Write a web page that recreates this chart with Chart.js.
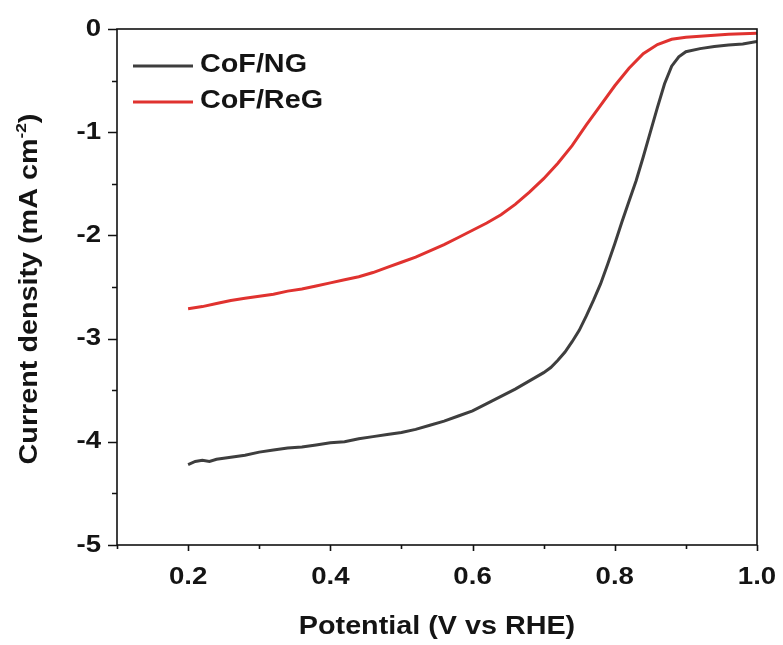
<!DOCTYPE html>
<html>
<head>
<meta charset="utf-8">
<script src="https://cdn.jsdelivr.net/npm/chart.js@4.4.0/dist/chart.umd.min.js"></script>
<style>
    html, body { margin: 0; padding: 0; background: #fff; }
    #wrap { width: 783px; height: 645px; }
</style>
</head>
<body>
<div id="wrap"><canvas id="lsv"></canvas></div>
<script>
// ---------------- data ----------------
const seriesNames = ["CoF/NG", "CoF/ReG"];

const ngPotential = [0.20, 0.21, 0.22, 0.23, 0.24, 0.25, 0.26, 0.28, 0.30, 0.32, 0.34, 0.36, 0.38, 0.40,
    0.42, 0.44, 0.46, 0.48, 0.50, 0.52, 0.54, 0.56, 0.58, 0.60, 0.62, 0.64, 0.66, 0.68, 0.70, 0.71,
    0.72, 0.73, 0.74, 0.75, 0.76, 0.77, 0.78, 0.79, 0.80, 0.81, 0.82, 0.83, 0.84, 0.85, 0.86, 0.87,
    0.88, 0.89, 0.90, 0.92, 0.94, 0.96, 0.98, 1.00];
const ngCurrent = [-4.22, -4.19, -4.18, -4.19, -4.17, -4.16, -4.15, -4.13, -4.10, -4.08, -4.06, -4.05, -4.03, -4.01,
    -4.00, -3.97, -3.95, -3.93, -3.91, -3.88, -3.84, -3.80, -3.75, -3.70, -3.63, -3.56, -3.49, -3.41, -3.33, -3.28,
    -3.21, -3.13, -3.03, -2.92, -2.78, -2.63, -2.47, -2.28, -2.08, -1.87, -1.67, -1.47, -1.24, -1.00, -0.76, -0.53,
    -0.36, -0.27, -0.22, -0.19, -0.17, -0.155, -0.145, -0.12];

const regPotential = [0.20, 0.22, 0.24, 0.26, 0.28, 0.30, 0.32, 0.34, 0.36, 0.38, 0.40, 0.42, 0.44, 0.46,
    0.48, 0.50, 0.52, 0.54, 0.56, 0.58, 0.60, 0.62, 0.64, 0.66, 0.68, 0.70, 0.72, 0.74, 0.76, 0.78,
    0.80, 0.82, 0.84, 0.86, 0.88, 0.90, 0.92, 0.94, 0.96, 0.98, 1.00];
const regCurrent = [-2.71, -2.69, -2.66, -2.63, -2.61, -2.59, -2.57, -2.54, -2.52, -2.49, -2.46, -2.43, -2.40, -2.36,
    -2.31, -2.26, -2.21, -2.15, -2.09, -2.02, -1.95, -1.88, -1.80, -1.70, -1.58, -1.45, -1.30, -1.13, -0.93, -0.74,
    -0.55, -0.38, -0.24, -0.15, -0.10, -0.08, -0.07, -0.06, -0.05, -0.045, -0.04];

const xMajorTicks = [0.2, 0.4, 0.6, 0.8, 1.0];
const xTickLabels = ["0.2", "0.4", "0.6", "0.8", "1.0"];
const xMinorTicks = [0.1, 0.3, 0.5, 0.7, 0.9];
const yMajorTicks = [0, -1, -2, -3, -4, -5];
const yTickLabels = ["0", "-1", "-2", "-3", "-4", "-5"];
const yMinorTicks = [-0.5, -1.5, -2.5, -3.5, -4.5];

const xTitle = "Potential (V vs RHE)";
const yTitle = ["Current density (mA cm", "-2", ")"];

const lineColors = ["#3e3e3e", "#e0322f"];
const textColor = "#141414";
const fontFamily = "'Liberation Sans', Arial, sans-serif";
const stretch = 1.15; // the original lettering is a bit wider than Arial

// draw text stretched horizontally around its anchor
function wideText(ctx, str, x, y, align) {
    const w = ctx.measureText(str).width * stretch;
    let left = x;
    if (align === "center") left = x - w / 2;
    if (align === "right") left = x - w;
    ctx.save();
    ctx.translate(left, y);
    ctx.scale(stretch, 1);
    ctx.textAlign = "left";
    ctx.fillText(str, 0, 0);
    ctx.restore();
    return w;
}

// Frame, outward ticks, tick labels, titles and legend
const decorPlugin = {
    id: "decor",
    afterDraw(chart) {
        const ctx = chart.ctx;
        const area = chart.chartArea;
        const xs = chart.scales.x;
        const ys = chart.scales.y;
        ctx.save();
        ctx.strokeStyle = "#111";
        ctx.lineWidth = 1.6;
        ctx.strokeRect(area.left, area.top, area.right - area.left, area.bottom - area.top);

        ctx.beginPath();
        xMajorTicks.forEach((v) => {
            const px = Math.round(xs.getPixelForValue(v)) + 0.5;
            ctx.moveTo(px, area.bottom); ctx.lineTo(px, area.bottom + 6);
        });
        xMinorTicks.forEach((v) => {
            const px = Math.round(xs.getPixelForValue(v)) + 0.5;
            ctx.moveTo(px, area.bottom); ctx.lineTo(px, area.bottom + 4);
        });
        yMajorTicks.forEach((v) => {
            const py = Math.round(ys.getPixelForValue(v)) + 0.5;
            ctx.moveTo(area.left, py); ctx.lineTo(area.left - 9, py);
        });
        yMinorTicks.forEach((v) => {
            const py = Math.round(ys.getPixelForValue(v)) + 0.5;
            ctx.moveTo(area.left, py); ctx.lineTo(area.left - 5, py);
        });
        ctx.stroke();

        // tick labels
        ctx.fillStyle = textColor;
        ctx.font = "bold 24px " + fontFamily;
        ctx.textBaseline = "middle";
        xMajorTicks.forEach((v, i) => {
            wideText(ctx, xTickLabels[i], xs.getPixelForValue(v), area.bottom + 32, "center");
        });
        yMajorTicks.forEach((v, i) => {
            wideText(ctx, yTickLabels[i], area.left - 16, ys.getPixelForValue(v), "right");
        });

        // x title
        ctx.font = "bold 25px " + fontFamily;
        wideText(ctx, xTitle, (area.left + area.right) / 2, area.bottom + 82, "center");

        // y title, rotated, with superscript
        ctx.save();
        ctx.translate(37, (area.top + area.bottom) / 2 + 2);
        ctx.rotate(-Math.PI / 2);
        ctx.textBaseline = "alphabetic";
        ctx.font = "bold 25px " + fontFamily;
        const w1 = ctx.measureText(yTitle[0]).width * stretch;
        const w3 = ctx.measureText(yTitle[2]).width * stretch;
        ctx.font = "bold 15px " + fontFamily;
        const w2 = ctx.measureText(yTitle[1]).width * stretch;
        const x0 = -(w1 + w2 + w3) / 2;
        ctx.font = "bold 25px " + fontFamily;
        wideText(ctx, yTitle[0], x0, 0, "left");
        ctx.font = "bold 15px " + fontFamily;
        wideText(ctx, yTitle[1], x0 + w1, -11, "left");
        ctx.font = "bold 25px " + fontFamily;
        wideText(ctx, yTitle[2], x0 + w1 + w2, 0, "left");
        ctx.restore();

        // legend
        ctx.font = "bold 25px " + fontFamily;
        ctx.textBaseline = "middle";
        chart.data.datasets.forEach((ds, i) => {
            const y = 66 + i * 36;
            ctx.strokeStyle = ds.borderColor;
            ctx.lineWidth = 3;
            ctx.beginPath();
            ctx.moveTo(133, y); ctx.lineTo(193, y);
            ctx.stroke();
            ctx.fillStyle = textColor;
            wideText(ctx, ds.label, 200, y - 1, "left");
        });
        ctx.restore();
    },
};

new Chart("lsv", {
    type: "line",
    data: {
        datasets: [
            {
                label: seriesNames[0],
                data: ngPotential.map((x, i) => ({ x: x, y: ngCurrent[i] })),
                borderColor: lineColors[0],
                borderWidth: 3,
                pointRadius: 0,
                tension: 0,
                fill: false,
            },
            {
                label: seriesNames[1],
                data: regPotential.map((x, i) => ({ x: x, y: regCurrent[i] })),
                borderColor: lineColors[1],
                borderWidth: 3,
                pointRadius: 0,
                tension: 0,
                fill: false,
            },
        ],
    },
    options: {
        responsive: true,
        maintainAspectRatio: false,
        animation: false,
        layout: { padding: { top: 29, right: 26, left: 0, bottom: 0 } },
        plugins: {
            legend: { display: false },
            tooltip: { enabled: false },
        },
        scales: {
            x: {
                type: "linear",
                min: 0.1,
                max: 1.0,
                grid: { display: false },
                border: { display: false },
                ticks: { display: false },
                afterFit: (scale) => { scale.height = 100; },
            },
            y: {
                min: -5,
                max: 0,
                grid: { display: false },
                border: { display: false },
                ticks: { display: false },
                afterFit: (scale) => { scale.width = 117; },
            },
        },
    },
    plugins: [decorPlugin],
});
</script>
</body>
</html>
